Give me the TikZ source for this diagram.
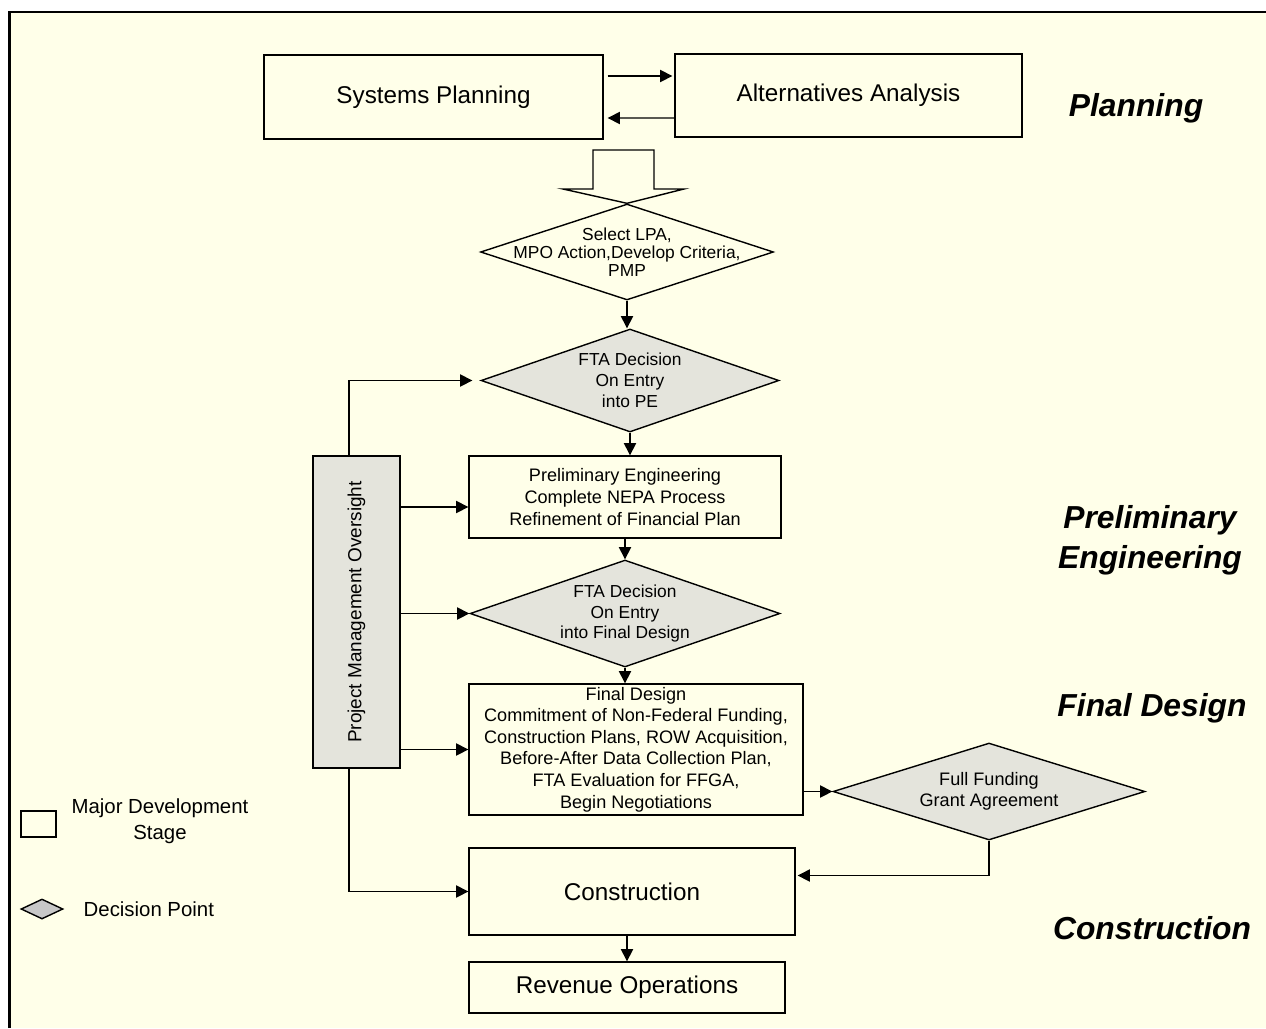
\documentclass[tikz,border=0pt]{standalone}
\usepackage{fontspec}
\setmainfont{Liberation Sans}
\usetikzlibrary{shapes.geometric,arrows.meta}
\definecolor{cream}{HTML}{FFFFE9}
\definecolor{dgray}{HTML}{E4E4DC}
\definecolor{lgray}{HTML}{C8C8C8}
\begin{document}
\begin{tikzpicture}[x=0.02cm,y=-0.02cm,line width=0.8pt,>={Triangle[length=7pt,width=7pt]},
  stage/.style={draw,rectangle,inner sep=0pt,align=center},
  decision/.style={draw,diamond,fill=dgray,inner sep=0pt},
  bigtxt/.style={font=\fontsize{13.8}{16}\selectfont},
  boxtxt/.style={font=\fontsize{10.3}{12.25}\selectfont,align=center},
  dtxt/.style={font=\fontsize{9.9}{11.9}\selectfont,align=center,inner sep=0pt},
  phase/.style={font=\fontsize{18.1}{22.7}\selectfont\bfseries\itshape,align=center}]
\useasboundingbox (0,0) rectangle (1266,1028);
\fill[cream] (9,12) rectangle (1266,1028);
\draw[line width=1.7pt] (9.5,1028) -- (9.5,12) -- (1266,12);
% planning
\node[stage,bigtxt,minimum width=6.78cm,minimum height=1.68cm] (sp) at (433.5,97) {Systems Planning};
\node[stage,bigtxt,minimum width=6.94cm,minimum height=1.66cm] (aa) at (848.5,95.5) {Alternatives Analysis};
\draw[->] ([shift={(4,-21)}]sp.east) -- ([shift={(-2,-19.5)}]aa.west);
\draw[->] ([shift={(0,22.5)}]aa.west) -- ([shift={(4,21)}]sp.east);
\node[decision,fill=cream,minimum width=5.86cm,minimum height=1.92cm,
  label={[dtxt,font=\fontsize{9.9}{10.2}\selectfont]center:Select LPA,\\MPO Action,Develop Criteria,\\PMP}] (lpa) at (627,252) {};
\draw[fill=cream] (593,150) -- (654,150) -- (654,189) -- (684,189) -- (lpa.north) -- (563,189) -- (593,189) -- cycle;
% preliminary engineering
\node[decision,minimum width=5.96cm,minimum height=2.06cm,
  label={[dtxt]center:FTA Decision\\On Entry\\into PE}] (dpe) at (630,380.5) {};
\draw[->] (lpa.south) -- (lpa.south |- dpe.north);
\node[stage,boxtxt,minimum width=6.24cm,minimum height=1.64cm] (pe) at (625,497)
  {Preliminary Engineering\\Complete NEPA Process\\Refinement of Financial Plan};
\draw[->] (dpe.south) -- (dpe.south |- pe.north);
\node[stage,fill=dgray,minimum width=1.74cm,minimum height=6.24cm] (pmo) at (356.5,612) {};
\node[font=\fontsize{10.8}{13}\selectfont,rotate=90] (pmotxt) at (pmo) {Project Management Oversight};
\node[decision,minimum width=6.2cm,minimum height=2.14cm,
  label={[dtxt]center:FTA Decision\\On Entry\\into Final Design}] (dfd) at (625,613.5) {};
\draw[->] (pe.south) -- (pe.south |- dfd.north);
% final design
\node[stage,boxtxt,minimum width=6.68cm,minimum height=2.62cm] (fd) at (636,749.5)
  {Final Design\\Commitment of Non-Federal Funding,\\Construction Plans, ROW Acquisition,\\Before-After Data Collection Plan,\\FTA Evaluation for FFGA,\\Begin Negotiations};
\draw[->] (dfd.south) -- (dfd.south |- fd.north);
\node[decision,minimum width=6.24cm,minimum height=1.94cm,
  label={[dtxt,font=\fontsize{10.3}{11.9}\selectfont]center:Full Funding\\Grant Agreement}] (ffga) at (989,791.5) {};
\draw[->] (fd.east |- ffga.west) -- (ffga.west);
% construction
\node[stage,bigtxt,minimum width=6.52cm,minimum height=1.74cm] (con) at (632,891.5) {Construction};
\node[stage,bigtxt,minimum width=6.32cm,minimum height=1.02cm] (rev) at (627,987.5) {Revenue Operations};
\draw[->] (rev.north |- con.south) -- (rev.north);
\coordinate (conin) at ([shift={(2,-16)}]con.east);
\draw[->] (ffga.south) |- (conin);
% oversight arrows
\coordinate (pein) at ([shift={(0,10)}]pe.west);
\draw[->] ([shift={(-7.5,0)}]pmo.north) |- ([shift={(-8,0)}]dpe.west);
\draw[->] (pein -| pmo.east) -- (pein);
\draw[->] (pmo.east |- dfd.west) -- (dfd.west);
\draw[->] (pmo.east |- fd.west) -- (fd.west);
\draw[->] ([shift={(-7.5,0)}]pmo.south) |- (con.west);
% legend
\node[stage,minimum width=0.7cm,minimum height=0.52cm] (legbox) at (38.5,824) {};
\node[font=\fontsize{11.6}{14.7}\selectfont,align=center] (legstage) at (160,821) {Major Development\\Stage};
\node[draw,diamond,fill=lgray,inner sep=0pt,minimum width=0.84cm,minimum height=0.4cm] (legdia) at (42,909) {};
\node[font=\fontsize{11.6}{14.7}\selectfont,anchor=west,inner sep=0pt] (legdec) at (83,909) {Decision Point};
% phases
\node[phase] (lplan) at (1136,108) {Planning};
\node[phase] (lprel) at (1150,540) {Preliminary\\Engineering};
\node[phase] (lfinal) at (1152,708) {Final Design};
\node[phase] (lcons) at (1152,928) {Construction};
\end{tikzpicture}
\end{document}
